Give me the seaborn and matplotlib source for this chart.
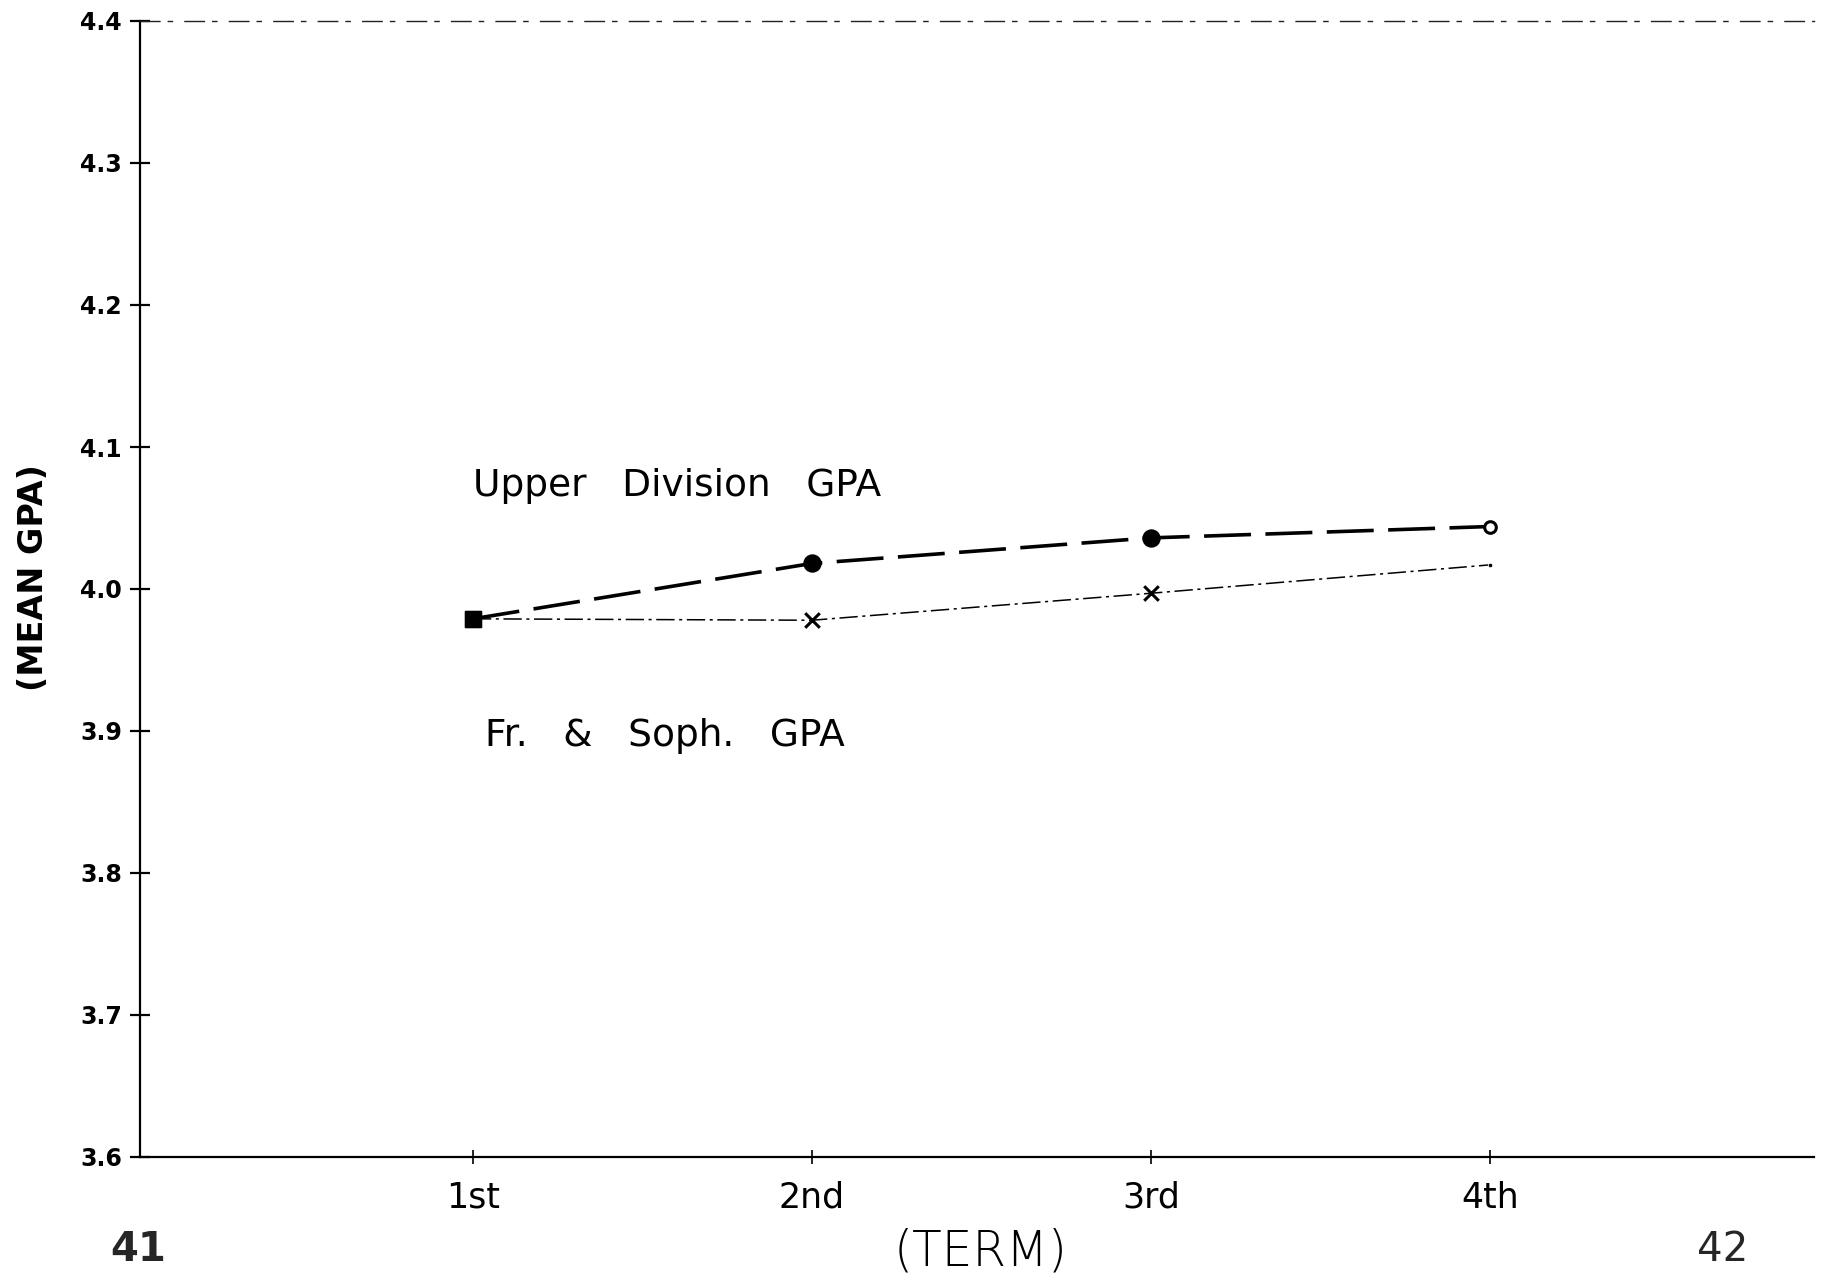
import matplotlib
matplotlib.use('Agg')
import matplotlib.pyplot as plt
import seaborn as sns
import pandas as pd
import numpy as np

# ---- data ----
terms = ['1st', '2nd', '3rd', '4th']
upper_gpa = [3.979, 4.018, 4.036, 4.044]
frsoph_gpa = [3.979, 3.978, 3.997, 4.017]
series_names = ['Upper Division GPA', 'Fr. & Soph. GPA']
y_ticks = [3.6, 3.7, 3.8, 3.9, 4.0, 4.1, 4.2, 4.3, 4.4]
x_title = '(TERM)'
y_title = '(MEAN GPA)'
page_left = '41'
page_right = '42'

sns.set_theme(style='white')
plt.rcParams['font.family'] = ['DejaVu Sans']

pos = np.arange(1, len(terms) + 1)
df = pd.DataFrame({
    'pos': np.concatenate([pos, pos]),
    'term': terms * 2,
    'gpa': upper_gpa + frsoph_gpa,
    'series': [series_names[0]] * len(terms) + [series_names[1]] * len(terms),
})

fig = plt.figure(figsize=(18.23, 12.73), dpi=100)
ax = fig.add_axes([140 / 1823, 116 / 1273, (1814 - 140) / 1823, 1136 / 1273])

sns.lineplot(data=df, x='pos', y='gpa', hue='series', style='series',
             size='series',
             palette={series_names[0]: 'black', series_names[1]: 'black'},
             dashes={series_names[0]: (13, 4), series_names[1]: (12, 3, 2, 3)},
             sizes={series_names[0]: 2.6, series_names[1]: 1.1},
             legend=False, ax=ax, markers=False)

up = df[df['series'] == series_names[0]]
fr = df[df['series'] == series_names[1]]

# markers
sns.scatterplot(data=df[df['pos'] == 1], x='pos', y='gpa', marker='s', s=140,
                color='black', edgecolor='black', ax=ax, legend=False, zorder=5)
sns.scatterplot(data=up[(up['pos'] > 1) & (up['pos'] < 4)], x='pos', y='gpa',
                marker='o', s=150, color='black', edgecolor='black', ax=ax,
                legend=False, zorder=5)
sns.scatterplot(data=up[up['pos'] == 4], x='pos', y='gpa', marker='o', s=70,
                facecolor='white', edgecolor='black', linewidth=2.2, ax=ax,
                legend=False, zorder=5)
sns.scatterplot(data=fr[(fr['pos'] > 1) & (fr['pos'] < 4)], x='pos', y='gpa',
                marker='x', s=110, color='black', linewidth=2.2, ax=ax,
                legend=False, zorder=5)
sns.scatterplot(data=fr[fr['pos'] == 4], x='pos', y='gpa', marker='.', s=40,
                color='black', ax=ax, legend=False, zorder=5)

ax.set_xlim(0.018, 4.956)
ax.set_ylim(3.6, 4.4)
ax.set_xticks(pos, labels=terms)
ax.set_yticks(y_ticks, labels=[f'{v:.1f}' for v in y_ticks])

ax.spines['right'].set_visible(False)
ax.spines['top'].set_linestyle((0, (14, 6, 3, 9)))
ax.spines['top'].set_linewidth(1.0)
ax.spines['top'].set_color('#222222')
for s in ['left', 'bottom']:
    ax.spines[s].set_color('black')
    ax.spines[s].set_linewidth(1.6)

ax.tick_params(axis='y', direction='inout', length=14, width=1.6, left=True,
               labelsize=17, pad=6, colors='black')
ax.tick_params(axis='x', direction='inout', length=10, width=1.2, bottom=True,
               labelsize=25, pad=12, colors='black')
for lab in ax.get_yticklabels():
    lab.set_fontweight('bold')

ax.set_xlabel(x_title, fontsize=35, fontweight='light', color='black')
ax.xaxis.set_label_coords(0.502, -0.062)
ax.set_ylabel(y_title, fontsize=24, fontweight='bold', color='black')
ax.yaxis.set_label_coords(-0.054, 0.51)

ax.text(1.0, 4.0725, '   '.join(series_names[0].split()), fontsize=27,
        va='center', ha='left', color='black')
ax.text(1.035, 3.8965, '   '.join(series_names[1].split()), fontsize=27,
        va='center', ha='left', color='black')

fig.text(110 / 1823, 3 / 1273, page_left, fontsize=29,
         fontweight='bold', va='bottom', ha='left')
fig.text(1697 / 1823, 3 / 1273, page_right, fontsize=29,
         va='bottom', ha='left')

fig.savefig('out.png', dpi=100, facecolor='white')
